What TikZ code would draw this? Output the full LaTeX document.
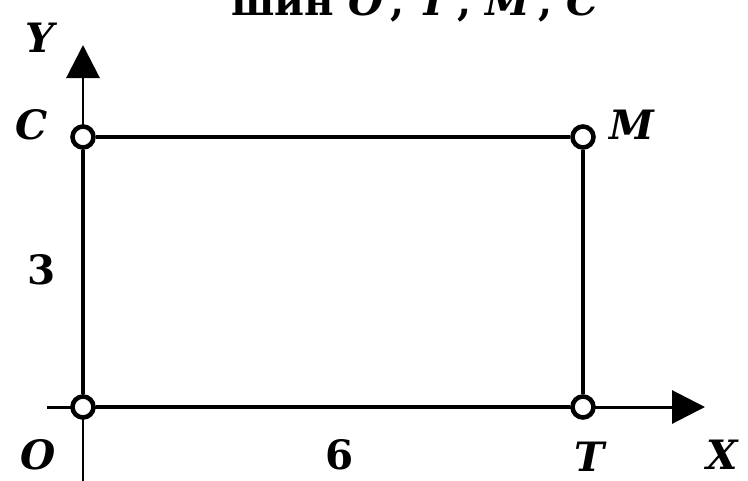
\documentclass[tikz,border=0pt]{standalone}
\usepackage{fontspec}
\setmainfont{DejaVu Serif}
\usetikzlibrary{arrows.meta,positioning}

\begin{document}
\begin{tikzpicture}[pt/.style={circle,draw,fill=white,line width=2.6pt,
 minimum size=0.42cm,inner sep=0pt},
 side/.style={line width=2.8pt},
 axis/.style={line width=1.7pt,-{Triangle[length=0.66cm,width=0.66cm]}},
 lbl/.style={font=\fontsize{23}{28}\selectfont\bfseries\itshape},
 num/.style={font=\fontsize{23}{28}\selectfont\bfseries}]
\useasboundingbox (0,0) rectangle (14.96,9.6);
% axes
\coordinate (xs) at (0.94,1.46);
\coordinate (xe) at (14.1,1.46);
\coordinate (ys) at (1.66,-0.1);
\coordinate (ye) at (1.66,8.7);
\draw[axis] (xs) -- (xe);
\draw[axis] (ys) -- (ye);
% corners
\node[pt] (O) at (1.66,1.46) {};
\node[pt] (T) at (11.66,1.46) {};
\node[pt] (M) at (11.66,6.86) {};
\node[pt] (C) at (1.66,6.86) {};
\draw[side] (O) -- (T);
\draw[side] (T) -- (M);
\draw[side] (M) -- (C);
\draw[side] (C) -- (O);
% labels
\node[lbl] (lY) at (0.8,8.85) {Y};
\node[lbl] (lX) at (14.44,0.5) {X};
\node[lbl] (lC) at (0.64,7.1) {C};
\node[lbl] (lM) at (12.64,7.1) {M};
\node[lbl] (lO) at (0.76,0.5) {O};
\node[lbl] (lT) at (11.8,0.46) {T};
\node[num] (l3) at (0.84,4.2) {3};
\node[num] (l6) at (6.8,0.5) {6};
% cut-off title
\node[num,anchor=base] (title) at (8.3,9.3) {шин \textit{O}\,, \textit{T}\,, \textit{M}\,, \textit{C}};
\end{tikzpicture}
\end{document}
